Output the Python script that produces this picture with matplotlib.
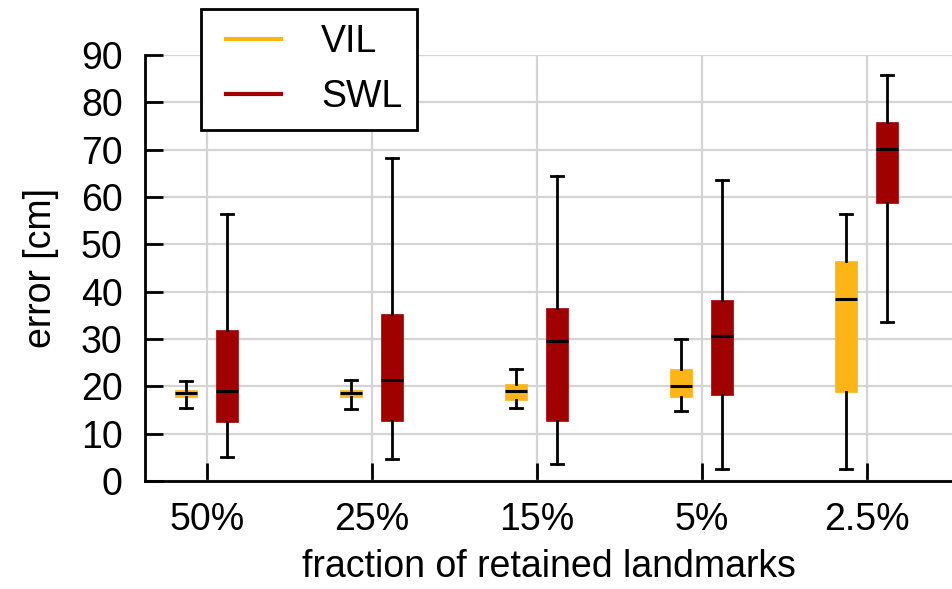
import numpy as np
import matplotlib
matplotlib.use("Agg")
import matplotlib.pyplot as plt
from matplotlib.lines import Line2D
from matplotlib.legend_handler import HandlerLine2D

plt.rcParams['font.family'] = ['Liberation Sans', 'DejaVu Sans']

categories = ["50%", "25%", "15%", "5%", "2.5%"]

# VIL: whislo, q1, median, q3, whishi
vil_lo = [15.4, 15.3, 15.5, 14.7, 2.5]
vil_q1 = [17.8, 17.8, 17.2, 17.7, 18.8]
vil_med = [18.5, 18.6, 19.0, 20.1, 38.4]
vil_q3 = [19.2, 19.3, 20.5, 23.7, 46.4]
vil_hi = [21.1, 21.4, 23.6, 30.1, 56.5]

# SWL
swl_lo = [5.1, 4.6, 3.6, 2.5, 33.5]
swl_q1 = [12.4, 12.7, 12.6, 18.2, 58.8]
swl_med = [19.0, 21.4, 29.5, 30.7, 70.2]
swl_q3 = [31.9, 35.3, 36.6, 38.3, 75.8]
swl_hi = [56.5, 68.3, 64.5, 63.5, 85.8]

vil_color = "#FDB515"
swl_color = "#A00000"
fs = 27


def stats(lo, q1, med, q3, hi):
    return [dict(whislo=a, q1=b, med=c, q3=d, whishi=e, fliers=[])
            for a, b, c, d, e in zip(lo, q1, med, q3, hi)]


fig = plt.figure(figsize=(9.53, 5.89), dpi=100)
ax = fig.add_axes([0.152, 0.1834, 0.848, 0.7232])

x = np.arange(len(categories))
for st, pos, col in [(stats(vil_lo, vil_q1, vil_med, vil_q3, vil_hi), x - 0.127, vil_color),
                     (stats(swl_lo, swl_q1, swl_med, swl_q3, swl_hi), x + 0.12, swl_color)]:
    ax.bxp(st, positions=pos, widths=0.133, patch_artist=True, showfliers=False,
           capwidths=0.075,
           boxprops=dict(facecolor=col, edgecolor=col, linewidth=0.5),
           medianprops=dict(color="black", linewidth=2.2),
           whiskerprops=dict(color="black", linewidth=2),
           capprops=dict(color="black", linewidth=2),
           zorder=3)

ax.set_xlim(-0.376, 4.52)
ax.set_ylim(0, 90)
ax.set_xticks(x)
ax.set_xticklabels(categories)
ax.set_yticks(np.arange(0, 91, 10))
ax.grid(True, color="#d4d4d4", linewidth=1.6)
ax.set_axisbelow(True)
for s in ["top", "right"]:
    ax.spines[s].set_visible(False)
for s in ["left", "bottom"]:
    ax.spines[s].set_linewidth(2)
ax.tick_params(axis="both", direction="in", length=13, width=2, labelsize=fs)
ax.tick_params(axis="x", pad=15)
ax.tick_params(axis="y", pad=16)
ax.set_xlabel("fraction of retained landmarks", fontsize=fs, labelpad=8)
ax.set_ylabel("error [cm]", fontsize=fs, labelpad=16)

handles = [Line2D([], [], color=vil_color, linewidth=3),
           Line2D([], [], color=swl_color, linewidth=3)]
hm = {h: HandlerLine2D(xpad=0.27) for h in handles}
leg = fig.legend(handles, ["VIL", "SWL"], loc="upper left", handler_map=hm,
                 bbox_to_anchor=(201 / 953, 1 - 9 / 589), fontsize=fs,
                 fancybox=False, framealpha=1, edgecolor="black",
                 handlelength=1.73, handletextpad=1.07, borderpad=0.4,
                 labelspacing=0.5, borderaxespad=0)
leg.get_frame().set_linewidth(2)

fig.savefig("out.png", dpi=100)
